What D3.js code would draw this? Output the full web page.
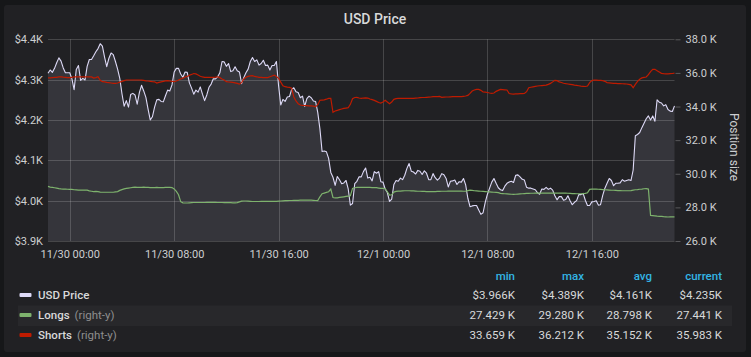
<!DOCTYPE html>
<html><head><meta charset="utf-8">
<script src="https://cdn.jsdelivr.net/npm/d3@7"></script>
<style>
html,body{margin:0;padding:0;background:#161719;}
svg{display:block;font-family:Roboto,"Noto Sans",sans-serif;}
</style></head><body>
<svg id="c" width="751" height="357"></svg>
<script>
const chartTitle = "USD Price";
const startTime = "2018-11-29T22:20:00Z";
const stepMinutes = 10;
const priceValues = [
4316,4324,4318,4328,4342,4354,4346,4329,4317,4317,
4317,4302,4275,4325,4335,4298,4303,4299,4333,4350,
4350,4359,4369,4377,4389,4383,4356,4332,4353,4366,
4362,4345,4326,4303,4265,4234,4248,4232,4263,4266,
4262,4239,4268,4286,4272,4256,4227,4200,4208,4232,
4250,4251,4246,4245,4260,4274,4272,4287,4319,4328,
4328,4314,4306,4319,4318,4292,4279,4264,4274,4269,
4282,4264,4248,4262,4281,4289,4302,4302,4307,4317,
4345,4344,4333,4340,4320,4322,4332,4322,4319,4290,
4305,4317,4326,4345,4355,4345,4349,4336,4340,4348,
4335,4336,4324,4335,4335,4345,4285,4237,4251,4246,
4257,4258,4276,4280,4270,4268,4255,4259,4234,4253,
4259,4255,4247,4246,4219,4178,4122,4123,4121,4105,
4070,4058,4038,4060,4052,4042,4044,4050,4029,3989,
3993,4042,4048,4059,4059,4072,4081,4056,4058,4049,
4072,4068,4072,4047,4046,4029,4020,3998,4004,4040,
4050,4048,4056,4052,4063,4080,4092,4073,4071,4066,
4075,4073,4065,4074,4068,4052,4052,4067,4057,4051,
4056,4067,4064,4055,4034,4048,4049,4051,4040,4047,
4046,4055,4039,4006,3985,3987,3988,3988,3977,3966,
3970,3996,4016,4031,4046,4055,4043,4032,4027,4025,
4036,4043,4046,4048,4045,4063,4064,4059,4053,4051,
4033,4031,4031,4029,4027,4020,4016,4029,4028,4033,
4028,4031,4026,4012,4002,4010,4010,4001,4003,4012,
4000,3990,3996,4000,4015,4015,4018,4001,3988,3988,
3997,3998,4000,3989,3990,4013,4031,4043,4055,4050,
4037,4043,4043,4044,4052,4048,4050,4052,4050,4076,
4161,4164,4169,4181,4192,4203,4210,4200,4210,4197,
4250,4244,4242,4235,4238,4226,4222,4221,4235];
const longsValues = [
29250,29210,29190,29170,29150,29120,29100,29090,29090,29080,
29070,29070,29050,29040,29030,29030,29030,29030,29030,28980,
28960,28940,28950,28940,28910,28900,28900,28900,28900,28900,
28900,28920,28940,29010,29060,29100,29130,29150,29170,29190,
29200,29190,29190,29190,29200,29190,29190,29180,29180,29180,
29190,29180,29180,29180,29190,29190,29190,29180,29100,28950,
28750,28340,28270,28260,28260,28270,28280,28290,28290,28290,
28290,28290,28290,28300,28300,28300,28300,28300,28290,28290,
28290,28280,28280,28280,28280,28270,28270,28280,28330,28370,
28380,28380,28370,28360,28350,28350,28350,28350,28360,28360,
28360,28360,28360,28360,28360,28360,28370,28380,28390,28400,
28400,28410,28410,28420,28420,28420,28430,28430,28430,28430,
28430,28430,28420,28410,28400,28630,28810,28850,28890,28930,
29090,28590,28560,28570,28590,28610,28630,28650,28670,28690,
29130,29170,29190,29190,29190,29190,29190,29190,29190,29180,
29170,29170,29150,29130,29130,29110,28930,28730,28750,28910,
28950,28970,28970,28980,28990,28990,28990,28980,28980,28970,
28960,28960,28950,28950,28940,28940,28940,28935,28940,28950,
28950,28960,28960,28960,28970,28970,28970,28970,28970,28970,
28970,28960,28970,29000,29030,29010,28990,28980,28970,28960,
28950,28940,28930,28920,28910,28900,28890,28880,28830,28820,
28810,28800,28790,28780,28770,28780,28790,28800,28810,28820,
28830,28830,28840,28840,28850,28850,28850,28850,28850,28850,
28850,28850,28850,28850,28850,28850,28850,28850,28850,28840,
28830,28820,28820,28810,28810,28810,28820,28830,28870,29070,
29090,29090,29090,29080,29070,29060,29050,29040,29030,29020,
29020,29010,29000,29000,28990,28990,28990,28990,29000,29030,
29050,29060,29080,29090,29110,29120,29090,27520,27510,27500,
27480,27470,27460,27445,27440,27429,27432,27436,27441];
const shortsValues = [
35700,35710,35720,35730,35740,35760,35770,35750,35740,35720,
35720,35740,35760,35770,35770,35770,35760,35770,35760,35770,
35760,35690,35720,35770,35560,35480,35470,35440,35420,35400,
35380,35380,35400,35450,35500,35540,35580,35580,35580,35580,
35580,35580,35580,35570,35560,35530,35520,35500,35480,35470,
35400,35440,35470,35500,35530,35540,35520,35500,35480,35520,
35580,35640,35690,35760,35790,35860,35910,35965,35940,35880,
35800,35760,35740,35730,35740,35736,35740,35750,35770,35720,
35640,35580,35480,35460,35450,35440,35410,35380,35330,35420,
35640,35740,35790,35820,35836,35790,35770,35740,35730,35720,
35716,35720,35770,35820,35870,35790,35680,35450,35230,35180,
35150,35140,35090,34570,34330,34170,34090,34070,34060,34050,
34040,34035,34030,33980,34110,34370,34387,34397,34437,34486,
34486,33659,33733,33772,33812,33851,33891,33910,33930,34130,
34466,34536,34546,34506,34486,34506,34516,34506,34447,34407,
34367,34308,34238,34209,34268,34377,34268,34169,34268,34427,
34466,34486,34486,34486,34486,34486,34486,34486,34486,34496,
34506,34526,34536,34536,34546,34556,34566,34586,34586,34586,
34605,34546,34556,34566,34566,34576,34586,34586,34586,34586,
34586,34605,34625,34665,34784,34923,34982,35022,35022,34962,
34863,34853,34833,34804,34784,34804,34903,34962,35022,35008,
34996,34982,34774,34754,34744,34750,34757,34764,34772,34780,
34883,35121,35149,35173,35199,35221,35236,35248,35262,35274,
35320,35379,35467,35558,35538,35467,35427,35385,35360,35340,
35320,35300,35274,35254,35236,35218,35205,35193,35221,35419,
35542,35578,35568,35558,35552,35542,35500,35423,35407,35393,
35379,35373,35367,35360,35354,35347,35340,35320,35290,35120,
35320,35498,35625,35703,35736,35756,35895,36074,36212,36212,
36133,36054,35974,35955,35943,35939,35953,35965,35983];
const leftTicks = [3900,4000,4100,4200,4300,4400];
const rightTicks = [26000,28000,30000,32000,34000,36000,38000];
const xTickTimes = ["2018-11-30T00:00:00Z","2018-11-30T08:00:00Z","2018-11-30T16:00:00Z","2018-12-01T00:00:00Z","2018-12-01T08:00:00Z","2018-12-01T16:00:00Z"];
const rightAxisTitle = "Position size";
const legendHeaders = ["min","max","avg","current"];
const seriesNames = ["USD Price","Longs","Shorts"];
const seriesSuffix = ["","(right-y)","(right-y)"];
const priceStats = ["$3.966K","$4.389K","$4.161K","$4.235K"];
const longsStats = ["27.429 K","29.280 K","28.798 K","27.441 K"];
const shortsStats = ["33.659 K","36.212 K","35.152 K","35.983 K"];

const colors = ["#dedaf7","#7eb26d","#bf1b00"];
const textColor = "#cdcfd1";

const t0 = new Date(startTime).getTime();
const timeAt = i => new Date(t0 + i*stepMinutes*60000);
const mk = arr => arr.map((v,i)=>({t:timeAt(i), v}));
const priceData = mk(priceValues), longsData = mk(longsValues), shortsData = mk(shortsValues);

const svg = d3.select("#c");
svg.append("rect").attr("x",4).attr("y",5).attr("width",742).attr("height",347).attr("rx",3).attr("fill","#212124");

svg.append("text").attr("x",375).attr("y",19).attr("text-anchor","middle").attr("dominant-baseline","central")
  .attr("fill","#d8d9da").attr("font-size",14).attr("font-weight",500).text(chartTitle);

const L=48, R=674.5, T=39.3, B=241;
const x = d3.scaleUtc().domain([timeAt(0), timeAt(priceValues.length-1)]).range([L,R]);
const yL = d3.scaleLinear().domain([3900,4400]).range([B,T]);
const yR = d3.scaleLinear().domain([26000,38000]).range([B,T]);
const xTicks = xTickTimes.map(s=>new Date(s));

// price area fill
svg.append("path").datum(priceData)
  .attr("d", d3.area().x(d=>x(d.t)).y0(B).y1(d=>yL(d.v)))
  .attr("fill","rgba(222,218,247,0.11)");

// grid
const grid = svg.append("g").attr("stroke","rgba(255,255,255,0.17)").attr("stroke-width",1);
grid.selectAll("line.h").data(leftTicks).join("line")
  .attr("x1",L).attr("x2",R).attr("y1",d=>Math.round(yL(d))+0.5).attr("y2",d=>Math.round(yL(d))+0.5);
grid.selectAll("line.v").data(xTicks).join("line")
  .attr("x1",d=>Math.round(x(d))+0.5).attr("x2",d=>Math.round(x(d))+0.5).attr("y1",T).attr("y2",B);

// lines
const lineL = d3.line().x(d=>x(d.t)).y(d=>yL(d.v));
const lineR = d3.line().x(d=>x(d.t)).y(d=>yR(d.v));
svg.append("path").datum(priceData).attr("d",lineL).attr("fill","none").attr("stroke",colors[0]).attr("stroke-width",1.1).attr("stroke-linejoin","round");
svg.append("path").datum(longsData).attr("d",lineR).attr("fill","none").attr("stroke",colors[1]).attr("stroke-width",1.2);
svg.append("path").datum(shortsData).attr("d",lineR).attr("fill","none").attr("stroke",colors[2]).attr("stroke-width",1.2);

// axes
const axL = svg.append("g").attr("transform",`translate(${L},0)`)
  .call(d3.axisLeft(yL).tickValues(leftTicks).tickSize(0).tickPadding(5).tickFormat(v=>"$"+(v/1000).toFixed(1)+"K"));
const axR = svg.append("g").attr("transform",`translate(${R+1},0)`)
  .call(d3.axisRight(yR).tickValues(rightTicks).tickSize(5).tickPadding(5).tickFormat(v=>(v/1000).toFixed(1)+" K"));
const axB = svg.append("g").attr("transform",`translate(0,${B})`)
  .call(d3.axisBottom(x).tickValues(xTicks).tickSize(0).tickPadding(9).tickFormat(d3.utcFormat("%-m/%-d %H:%M")));
[axL,axR,axB].forEach(a=>{
  a.select(".domain").remove();
  a.selectAll("text").attr("fill",textColor).attr("font-size",11).attr("font-family","Roboto");
  a.selectAll("line").attr("stroke","rgba(255,255,255,0.25)");
});

svg.append("text").attr("transform","translate(734,147) rotate(90)").attr("text-anchor","middle")
  .attr("dominant-baseline","central").attr("fill",textColor).attr("font-size",12).text(rightAxisTitle);

// legend
const colX = [515,584,652,722];
const rowY = [295,315,335];
svg.append("rect").attr("x",18).attr("y",305.5).attr("width",714).attr("height",20.5).attr("fill","#28282b");
svg.selectAll("text.hdr").data(legendHeaders).join("text")
  .attr("x",(d,i)=>colX[i]).attr("y",276).attr("text-anchor","end").attr("dominant-baseline","central")
  .attr("fill","#33b5e5").attr("font-size",11.5).attr("font-weight",500).text(d=>d);
const stats=[priceStats,longsStats,shortsStats];
seriesNames.forEach((name,r)=>{
  const y=rowY[r];
  svg.append("rect").attr("x",19.5).attr("y",y-2).attr("width",12).attr("height",4).attr("rx",1).attr("fill",colors[r]);
  const t=svg.append("text").attr("x",38).attr("y",y).attr("dominant-baseline","central").attr("font-size",11.5);
  t.append("tspan").attr("fill","#d8d9da").attr("font-weight",500).text(name);
  if(seriesSuffix[r]) t.append("tspan").attr("fill","#8e8e8e").attr("dx",5).text(seriesSuffix[r]);
  stats[r].forEach((s,c)=>{
    svg.append("text").attr("x",colX[c]).attr("y",y).attr("text-anchor","end").attr("dominant-baseline","central")
      .attr("fill","#d8d9da").attr("font-size",11.5).text(s);
  });
});
</script>
</body></html>
